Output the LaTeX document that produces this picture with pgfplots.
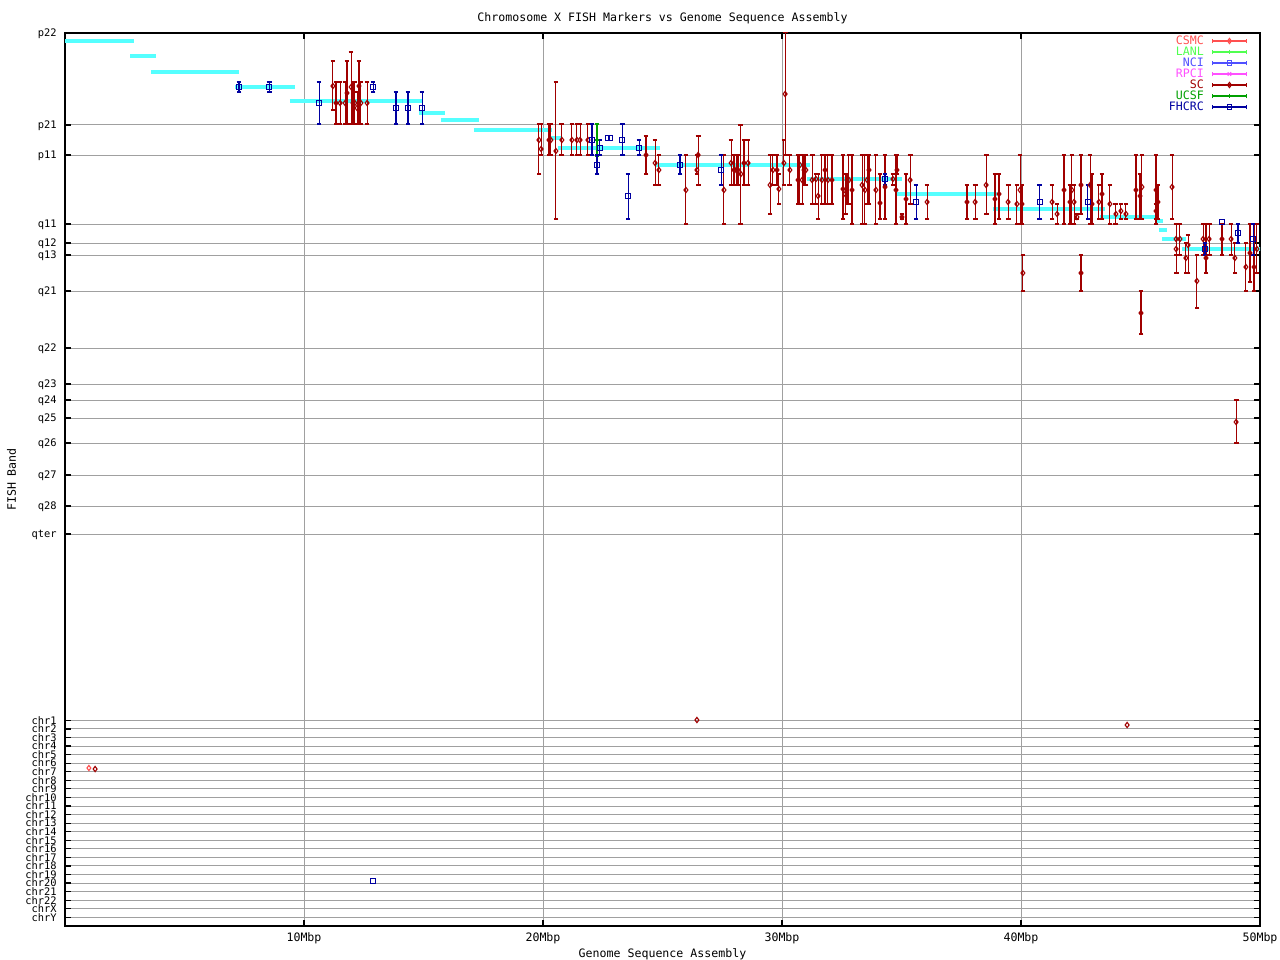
\documentclass[border=0pt]{standalone}
\usepackage{fontspec}
\setmainfont{DejaVu Sans Mono}
\usepackage{pgfplots}
\usepackage{pgfplotstable}
\pgfplotsset{compat=1.18}
\definecolor{csmc}{RGB}{255,80,80}
\definecolor{lanl}{RGB}{80,255,80}
\definecolor{nci}{RGB}{80,80,255}
\definecolor{rpci}{RGB}{255,80,255}
\definecolor{scc}{RGB}{160,0,0}
\definecolor{ucsf}{RGB}{0,160,0}
\definecolor{fhcrc}{RGB}{0,0,160}
\definecolor{band}{RGB}{85,255,255}
\definecolor{gridgray}{RGB}{160,160,160}
\newcommand\gp{\fontsize{5.8bp}{6.8bp}\selectfont}
\newcommand\gpy{\fontsize{5.2bp}{6bp}\selectfont}

% SC markers: x (Mbp), band position y, band range lo..hi
\pgfplotstableread{
x y lo hi
11.21 86 61 110
11.34 103 82 124
11.51 103 82 124
11.72 103 82 124
11.80 93 61 124
11.97 87 52 124
12.05 103 82 124
12.13 103 82 124
12.22 108 92 124
12.30 86 61 124
12.38 103 82 124
12.64 103 82 124
19.83 140 124 174
19.92 149 124 155
20.25 140 124 155
20.33 140 124 155
20.54 151 82 219
20.79 140 124 155
21.21 140 124 155
21.42 140 124 155
21.55 140 124 155
21.88 140 124 155
24.31 155 136 174
24.69 163 140 185
24.85 170 155 185
25.98 190 155 224
26.49 155 136 185
26.44 170 155 174
27.57 190 155 224
27.87 163 140 185
27.99 170 155 185
28.08 170 155 185
28.16 170 155 185
28.28 174 125 224
28.41 163 140 185
28.58 163 140 185
29.50 185 155 214
29.62 170 155 185
29.79 170 155 185
29.87 189 174 204
30.08 163 140 185
30.13 94 32 155
30.33 170 155 185
30.67 180 155 204
30.75 165 155 204
30.84 180 155 204
30.92 170 155 185
31.00 170 155 185
31.26 180 155 204
31.42 179 174 204
31.51 196 174 219
31.67 180 155 204
31.80 170 155 204
31.92 180 155 204
32.09 180 155 204
32.55 189 155 219
32.64 194 174 214
32.72 180 174 204
32.80 180 155 204
32.93 190 155 224
33.35 185 155 224
33.47 190 155 224
33.56 180 155 204
33.64 170 155 204
33.93 190 155 224
34.10 203 174 219
34.31 187 155 219
34.64 179 174 185
34.77 190 155 224
34.81 170 155 174
35.02 217 214 219
35.19 199 174 224
35.36 180 155 204
36.07 202 185 219
37.74 202 185 219
38.08 202 185 219
38.54 185 155 214
38.91 199 174 224
39.08 194 174 219
39.46 202 185 219
39.83 204 185 224
39.96 190 155 224
40.04 204 185 224
40.08 273 255 291
41.30 202 185 219
41.51 214 204 224
41.80 190 155 224
42.05 202 185 224
42.13 190 155 224
42.22 202 185 224
42.34 217 214 219
42.51 185 155 214
42.51 273 255 291
42.89 185 155 224
42.97 204 174 224
43.26 202 185 219
43.39 194 174 219
43.72 204 185 224
43.97 214 204 224
44.18 211 204 219
44.39 214 204 219
44.81 190 155 219
44.98 196 174 219
45.06 187 155 219
45.02 313 291 334
45.65 190 155 224
45.65 211 204 219
45.73 202 185 219
46.32 187 155 219
46.49 239 224 255
46.49 249 224 273
46.65 239 224 255
46.90 258 243 273
46.99 245 235 273
47.36 281 255 308
47.62 239 224 255
47.74 258 224 273
47.87 239 224 255
48.41 239 224 255
48.79 239 224 255
48.95 258 243 273
49.00 422 400 443
49.41 267 243 291
49.58 253 224 282
49.75 267 224 291
49.87 249 224 273
}\scdata

\pgfplotstableread{
x y
1.26 769
26.44 720
44.44 725
}\scsingle

\pgfplotstableread{
x y lo hi
7.28 87 82 92
8.54 87 82 92
10.63 103 82 124
12.89 87 82 92
13.85 108 92 124
14.35 108 92 124
14.94 108 92 124
22.05 140 124 155
22.26 165 155 174
22.38 148 140 155
23.31 140 124 155
23.56 196 174 219
24.02 148 140 155
25.73 165 155 174
27.45 170 155 185
34.31 179 174 185
35.61 202 185 219
40.79 202 185 219
42.80 202 185 219
47.70 249 243 255
49.08 233 224 243
49.71 239 224 255
}\fhdata

\pgfplotstableread{
x y
22.70 138
22.82 138
48.41 222
12.89 881
}\fhsingle

\pgfplotsset{
  errleg/.style={legend image code/.code={
    \draw[mark=none,solid] (0bp,0bp) -- (17bp,0bp);
    \draw[mark=none,solid] (0bp,-1.2bp) -- (0bp,1.2bp) (17bp,-1.2bp) -- (17bp,1.2bp);
    \draw[only marks] plot coordinates {(8.5bp,0bp)};
  }},
  ser/.style={color=#1, only marks, line width=0.55bp, mark options={solid, line width=0.55bp}, errleg},
  errs/.style={error bars/.cd, y dir=both, y explicit,
    error bar style={line width=0.55bp},
    error mark options={rotate=90, mark size=1.2bp, line width=0.55bp}},
  bandseg/.style={band, line width=2bp, no markers, forget plot, line cap=butt},
}

\begin{document}
\begin{tikzpicture}
\useasboundingbox (-32.5bp,-17bp) rectangle (607.5bp,463bp);
\begin{axis}[
  at={(0,0)}, anchor=south west,
  scale only axis, width=597.5bp, height=446.5bp,
  xmin=0, xmax=50, ymin=33, ymax=926, y dir=reverse,
  axis line style={line width=0.6bp},
  xtick={10,20,30,40,50},
  xticklabels={10Mbp,20Mbp,30Mbp,40Mbp,50Mbp},
  ytick={33,125,155,224,243,255,291,348,384,400,418,443,475,506,534,
    720.3,728.9,737.4,746.0,754.6,763.1,771.7,780.3,788.8,797.4,806.0,814.5,
    823.1,831.6,840.2,848.8,857.3,865.9,874.5,883.0,891.6,900.2,908.7,917.3},
  yticklabels={p22,p21,p11,q11,q12,q13,q21,q22,q23,q24,q25,q26,q27,q28,qter,
    chr1,chr2,chr3,chr4,chr5,chr6,chr7,chr8,chr9,chr10,chr11,chr12,chr13,chr14,
    chr15,chr16,chr17,chr18,chr19,chr20,chr21,chr22,chrX,chrY},
  tick style={black, line width=0.6bp},
  major tick length=3bp,
  grid=major, major grid style={color=gridgray, line width=0.5bp},
  xticklabel style={font=\gp, anchor=base, inner sep=0pt, yshift=-7.5bp},
  yticklabel style={font=\gpy, anchor=east, inner sep=0pt, xshift=-4bp, text height=3.8bp, text depth=0bp},
  title={Chromosome X FISH Markers vs Genome Sequence Assembly},
  title style={font=\gp, at={(axis description cs:0.5,1)}, anchor=base, yshift=0bp},
  xlabel={Genome Sequence Assembly},
  xlabel style={font=\gp, at={(axis description cs:0.5,0)}, anchor=base, yshift=-15.5bp},
  ylabel={FISH Band},
  ylabel style={font=\gp, at={(axis description cs:-0.0448,0.5)}, anchor=center},
  legend style={at={(axis description cs:1,1)}, anchor=north east, xshift=-6.5bp, yshift=-2bp,
    draw=none, fill=none, inner sep=0pt, outer sep=0pt, row sep=1.5bp, font=\gp,
    nodes={inner sep=0pt, text height=4bp, text depth=0bp}, /tikz/column sep=4bp},
  legend cell align=right, legend plot pos=right,
]
% genome assembly band segments
\addplot[bandseg] coordinates {(0,41) (2.89,41)};
\addplot[bandseg] coordinates {(2.72,56) (3.81,56)};
\addplot[bandseg] coordinates {(3.60,72) (7.28,72)};
\addplot[bandseg] coordinates {(7.11,87) (9.62,87)};
\addplot[bandseg] coordinates {(9.41,101) (14.98,101)};
\addplot[bandseg] coordinates {(14.81,113) (15.90,113)};
\addplot[bandseg] coordinates {(15.73,120) (17.32,120)};
\addplot[bandseg] coordinates {(17.11,130) (20.38,130)};
\addplot[bandseg] coordinates {(20.25,138) (20.75,138)};
\addplot[bandseg] coordinates {(20.63,148) (24.90,148)};
\addplot[bandseg] coordinates {(24.69,165) (31.17,165)};
\addplot[bandseg] coordinates {(31.05,179) (35.02,179)};
\addplot[bandseg] coordinates {(34.81,194) (39.00,194)};
\addplot[bandseg] coordinates {(38.83,209) (43.51,209)};
\addplot[bandseg] coordinates {(43.31,217) (45.73,217)};
\addplot[bandseg] coordinates {(45.61,221) (45.94,221)};
\addplot[bandseg] coordinates {(45.77,230) (46.11,230)};
\addplot[bandseg] coordinates {(45.90,239) (46.90,239)};
\addplot[bandseg] coordinates {(46.74,249) (50.08,249)};

% CSMC
\addplot[ser=csmc, mark=diamond, mark size=1.3bp] coordinates {(1.00,768)};
\addlegendentry{\textcolor{csmc}{CSMC}}
\addlegendimage{ser=lanl, mark=+, mark size=1.2bp}
\addlegendentry{\textcolor{lanl}{LANL}}
\addlegendimage{ser=nci, mark=square, mark size=1.1bp}
\addlegendentry{\textcolor{nci}{NCI}}
\addlegendimage{ser=rpci, mark=x, mark size=1.2bp}
\addlegendentry{\textcolor{rpci}{RPCI}}
% SC
\addplot[ser=scc, mark=diamond, mark size=1.3bp, errs] table[x=x, y=y,
  y error plus expr=\thisrow{hi}-\thisrow{y}, y error minus expr=\thisrow{y}-\thisrow{lo}] {\scdata};
\addlegendentry{\textcolor{scc}{SC}}
\addplot[ser=scc, mark=diamond, mark size=1.3bp, forget plot] table[x=x, y=y] {\scsingle};
% UCSF
\addplot[ser=ucsf, mark=+, mark size=1.2bp, errs] coordinates {(22.26,140) +- (0,16)};
\addlegendentry{\textcolor{ucsf}{UCSF}}
% FHCRC
\addplot[ser=fhcrc, mark=square, mark size=1.1bp, errs] table[x=x, y=y,
  y error plus expr=\thisrow{hi}-\thisrow{y}, y error minus expr=\thisrow{y}-\thisrow{lo}] {\fhdata};
\addlegendentry{\textcolor{fhcrc}{FHCRC}}
\addplot[ser=fhcrc, mark=square, mark size=1.1bp, forget plot] table[x=x, y=y] {\fhsingle};
\end{axis}
\end{tikzpicture}
\end{document}
